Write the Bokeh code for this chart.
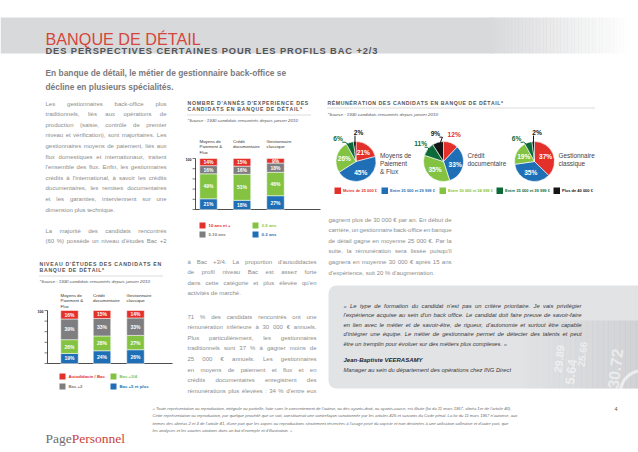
import numpy as np
from bokeh.plotting import figure
from bokeh.models import Range1d
from bokeh.embed import file_html
from bokeh.resources import INLINE
from bokeh.core.properties import value

# ---------------- data ----------------
bar_categories = [["Moyens de", "Paiement &", "Flux"], ["Crédit", "documentaire"], ["Gestionnaire", "classique"]]

exp_series = ["0-3 ans", "3-5 ans", "5-10 ans", "10 ans et +"]
exp_0_3 = [21, 18, 27]
exp_3_5 = [49, 51, 46]
exp_5_10 = [16, 16, 18]
exp_10_plus = [14, 15, 9]

edu_series = ["Bac +5 et plus", "Bac +3/4", "Bac +2", "Autodidacte / Bac"]
edu_bac5 = [19, 24, 26]
edu_bac34 = [26, 28, 27]
edu_bac2 = [39, 33, 33]
edu_auto = [16, 15, 14]

pay_series = ["Moins de 25 000 €", "Entre 25 000 et 29 999 €", "Entre 30 000 et 34 999 €",
              "Entre 35 000 et 39 999 €", "Plus de 40 000 €"]
pay_categories = [["Moyens de", "Paiement", "& Flux"], ["Crédit", "documentaire"], ["Gestionnaire", "classique"]]
pay_moyens = [21, 45, 26, 6, 2]
pay_credit = [12, 33, 35, 11, 9]
pay_gestion = [37, 35, 19, 6, 2]

# ---------------- styles ----------------
RED = "#e3302b"
BLUE = "#1f6fb6"
GREEN = "#84c342"
GRAY = "#7e7e80"
DKGREEN = "#0c6a39"
BLACK = "#151515"
TXT = "#8c8c8c"
FONT = "Liberation Sans"
PW, PH = 638, 452

p = figure(width=PW, height=PH, x_range=Range1d(0, PW), y_range=Range1d(0, PH),
           output_backend="svg", toolbar_location=None, min_border=0,
           x_axis_location=None, y_axis_location=None)
p.grid.visible = False
p.outline_line_color = None
p.background_fill_color = "white"
p.border_fill_color = "white"


def Y(py):
    return PH - py


def txt(x, py, s, size, color, style="normal", font=FONT, align="left", baseline="alphabetic", angle=0, alpha=1.0):
    xs = x if isinstance(x, (list, np.ndarray)) else [x]
    ys = [Y(v) for v in py] if isinstance(py, (list, np.ndarray)) else [Y(py)]
    ss = s if isinstance(s, list) else [s]
    p.text(x=xs, y=ys, text=ss, text_font=value(font), text_font_size=f"{size}px",
           text_color=color, text_font_style=style, text_align=align, text_baseline=baseline,
           angle=angle, text_alpha=alpha)


# Arial / Liberation Sans advance widths (1/1000 em)
AW = {' ': 278, '!': 278, '"': 355, '%': 889, '&': 667, "'": 191, '(': 333, ')': 333, '*': 389, '+': 584,
      ',': 278, '-': 333, '.': 278, '/': 278, ':': 278, ';': 278, '?': 556, '«': 556, '»': 556, '€': 556,
      'A': 667, 'B': 667, 'C': 722, 'D': 722, 'E': 667, 'F': 611, 'G': 778, 'H': 722, 'I': 278, 'J': 500,
      'K': 667, 'L': 556, 'M': 833, 'N': 722, 'O': 778, 'P': 667, 'Q': 778, 'R': 722, 'S': 667, 'T': 611,
      'U': 722, 'V': 667, 'W': 944, 'X': 667, 'Y': 667, 'Z': 611,
      'a': 556, 'b': 556, 'c': 500, 'd': 556, 'e': 556, 'f': 278, 'g': 556, 'h': 556, 'i': 222, 'j': 222,
      'k': 500, 'l': 222, 'm': 833, 'n': 556, 'o': 556, 'p': 556, 'q': 556, 'r': 333, 's': 500, 't': 278,
      'u': 556, 'v': 500, 'w': 722, 'x': 500, 'y': 500, 'z': 500,
      'é': 556, 'è': 556, 'ê': 556, 'à': 556, 'â': 556, 'ô': 556, 'ç': 500, 'î': 278, 'ù': 556, 'û': 556, 'É': 667}
# Arial Bold capitals
AWB = {' ': 278, "'": 238, '*': 389, '+': 584, '/': 278, '2': 556, '3': 556,
       'A': 722, 'B': 722, 'C': 722, 'D': 722, 'E': 667, 'É': 667, 'F': 611, 'G': 778, 'H': 722, 'I': 278,
       'J': 556, 'K': 722, 'L': 611, 'M': 833, 'N': 722, 'O': 778, 'P': 667, 'Q': 778, 'R': 722, 'S': 667,
       'T': 611, 'U': 722, 'V': 667, 'W': 944, 'X': 667, 'Y': 667, 'Z': 611}


def wwidth(s, size):
    return sum(AW.get(c, 556) for c in s) * size / 1000.0


def spaced(x0, py, s, size, color, ls):
    """bold capitals with letter spacing, one glyph per character"""
    xs, ts = [], []
    x = x0
    for c in s:
        if c != " ":
            xs.append(x); ts.append(c)
        x += AWB.get(c, 667) * size / 1000.0 + ls
    txt(xs, [py] * len(xs), ts, size, color, style="bold")


def paragraph(lines, x0, x1, py0, dy, size, color, justify_last=False, style="normal"):
    xs, ys, ts = [], [], []
    for i, line in enumerate(lines):
        py = py0 + i * dy
        words = line.split(" ")
        last = (i == len(lines) - 1)
        if len(words) > 1 and (not last or justify_last):
            tot = sum(wwidth(w, size) for w in words)
            gap = (x1 - x0 - tot) / (len(words) - 1)
            gap = max(gap, 0.12 * size)
            x = x0
            for w in words:
                xs.append(x); ys.append(py); ts.append(w)
                x += wwidth(w, size) + gap
        else:
            xs.append(x0); ys.append(py); ts.append(line)
    txt(xs, ys, ts, size, color, style=style)


# ---------------- header band ----------------
p.quad(left=0, right=492, top=Y(17), bottom=Y(53), fill_color="#d8d9db", line_color=None)
n = 40
for i in range(n):
    l = 490 + i * 140 / n
    p.quad(left=l, right=l + 140 / n + 0.5, top=Y(17), bottom=Y(53), fill_color="#d8d9db",
           fill_alpha=1 - (i + 1) / n, line_color=None)
txt(45, 38, "BANQUE DE DÉTAIL", 16.2, "#d5473c")
spaced(45, 50, "DES PERSPECTIVES CERTAINES POUR LES PROFILS BAC +2/3", 9.3, "#545456", 0.9)

txt(45, 72, "En banque de détail, le métier de gestionnaire back-office se", 8.4, "#7b7b7d", style="bold")
txt(45, 86, "décline en plusieurs spécialités.", 8.4, "#7b7b7d", style="bold")

# ---------------- body text ----------------
left_lines = ["Les gestionnaires back-office plus",
              "traditionnels, liés aux opérations de",
              "production (saisie, contrôle de premier",
              "niveau et vérification), sont majoritaires. Les",
              "gestionnaires moyens de paiement, liés aux",
              "flux domestiques et internationaux, traitent",
              "l'ensemble des flux. Enfin, les gestionnaires",
              "crédits à l'international, à savoir les crédits",
              "documentaires, les remises documentaires",
              "et les garanties, interviennent sur une",
              "dimension plus technique."]
paragraph(left_lines, 45, 166, 103, 10.6, 6, TXT)
paragraph(["La majorité des candidats rencontrés", "(60 %) possède un niveau d'études Bac +2"],
          45, 166, 230, 10.6, 6, TXT, justify_last=True)

mid1 = ["à Bac +3/4. La proportion d'autodidactes",
        "de profil niveau Bac est assez forte",
        "dans cette catégorie et plus élevée qu'en",
        "activités de marché."]
paragraph(mid1, 187, 316, 261, 10.6, 6, TXT)
mid2 = ["71 % des candidats rencontrés ont une",
        "rémunération inférieure à 30 000 € annuels.",
        "Plus particulièrement, les gestionnaires",
        "traditionnels sont 37 % à gagner moins de",
        "25 000 € annuels. Les gestionnaires",
        "en moyens de paiement et flux et en",
        "crédits documentaires enregistrent des",
        "rémunérations plus élevées : 34 % d'entre eux"]
paragraph(mid2, 187, 316, 316, 10.6, 6, TXT, justify_last=True)

right1 = ["gagnent plus de 30 000 € par an. En début de",
          "carrière, un gestionnaire back-office en banque",
          "de détail gagne en moyenne 25 000 €. Par la",
          "suite, la rémunération sera lissée puisqu'il",
          "gagnera en moyenne 30 000 € après 15 ans",
          "d'expérience, soit 20 % d'augmentation."]
paragraph(right1, 328, 451, 219, 10.6, 6, TXT)


# ---------------- stacked bar charts ----------------
def bar_chart(x_axis, base_py, top_py, xcs, series, colors, title, title_py, categories, cat_py, legend):
    h = base_py - top_py
    spaced(x_axis - 8, title_py[0], title[0], 5.2, "#555557", 0.7)
    spaced(x_axis - 8, title_py[1], title[1], 5.2, "#555557", 0.7)
    p.segment(x0=x_axis - 8, x1=x_axis + 115, y0=Y(title_py[1] + 6), y1=Y(title_py[1] + 6),
              line_color="#888888", line_dash="1 1", line_width=0.6)
    txt(x_axis - 8, title_py[1] + 11.5, "*Source : 1930 candidats rencontrés depuis janvier 2010", 4.4,
        "#555557", style="italic")
    for xc, cat in zip(xcs, categories):
        for j, c in enumerate(cat):
            txt(xc - 9, cat_py + j * 5.3, c, 4.4, "#333333")
    p.segment(x0=x_axis, x1=x_axis, y0=Y(base_py), y1=Y(top_py), line_color="#222222", line_width=0.8)
    p.segment(x0=x_axis, x1=x_axis + 125, y0=Y(base_py), y1=Y(base_py), line_color="#222222", line_width=0.8)
    ticks = np.arange(0, 101, 20)
    ty = [Y(base_py) + t * h / 100 for t in ticks]
    p.segment(x0=[x_axis - 3] * len(ty), x1=[x_axis] * len(ty), y0=ty, y1=ty, line_color="#222222", line_width=0.6)
    txt(x_axis - 4, top_py + 1.2, "100", 3.6, "#222222", style="bold", align="right")
    bottom = np.zeros(len(xcs))
    for vals, col in zip(series, colors):
        v = np.array(vals, dtype=float)
        p.vbar(x=xcs, bottom=Y(base_py) + bottom * h / 100, top=Y(base_py) + (bottom + v) * h / 100,
               width=17.5, fill_color=col, line_color="white", line_width=0.5)
        mid = bottom + v / 2
        p.text(x=xcs, y=list(Y(base_py) + mid * h / 100), text=[f"{int(a)}%" for a in v],
               text_font=value(FONT), text_font_size="5px", text_font_style="bold", text_color="white",
               text_align="center", text_baseline="middle")
        bottom += v
    for (name, col, lx, lpy) in legend:
        p.quad(left=lx, right=lx + 6, top=Y(lpy - 3), bottom=Y(lpy + 3), fill_color=col, line_color=None)
        txt(lx + 9, lpy, name, 4.3, col, style="bold", baseline="middle")


bar_chart(195, 209, 158, [208, 241.5, 275],
          [exp_0_3, exp_3_5, exp_5_10, exp_10_plus], [BLUE, GREEN, GRAY, RED],
          ["NOMBRE D'ANNÉS D'EXPERIENCE DES", "CANDIDATS EN BANQUE DE DÉTAIL*"], [102, 108.5],
          bar_categories, 141,
          [(exp_series[3], RED, 199, 225), (exp_series[1], GREEN, 252, 225),
           (exp_series[2], GRAY, 199, 234), (exp_series[0], BLUE, 252, 234)])

bar_chart(47, 363, 310, [69, 101.5, 135],
          [edu_bac5, edu_bac34, edu_bac2, edu_auto], [BLUE, GREEN, GRAY, RED],
          ["NIVEAU D'ÉTUDES DES CANDIDATS EN", "BANQUE DE DÉTAIL*"], [263, 269.5],
          bar_categories, 295,
          [(edu_series[3], RED, 59, 376), (edu_series[1], GREEN, 110, 376),
           (edu_series[2], GRAY, 59, 386), (edu_series[0], BLUE, 110, 386)])

# ---------------- pies ----------------
spaced(327, 102, "RÉMUNÉRATION DES CANDIDATS EN BANQUE DE DÉTAIL*", 5.2, "#555557", 0.55)
p.segment(x0=327, x1=595, y0=Y(107.5), y1=Y(107.5), line_color="#888888", line_dash="1 1", line_width=0.6)
txt(327, 114, "*Source : 1930 candidats rencontrés depuis janvier 2010", 4.4, "#555557", style="italic")

pie_colors = [RED, BLUE, GREEN, DKGREEN, BLACK]


def pie(cx, cpy, r, vals, cat):
    v = np.array(vals, dtype=float)
    frac = v / v.sum()
    cum = np.concatenate([[0], np.cumsum(frac)])
    start = np.pi / 2 - cum[1:] * 2 * np.pi
    end = np.pi / 2 - cum[:-1] * 2 * np.pi
    p.wedge(x=cx, y=Y(cpy), radius=r, start_angle=start, end_angle=end,
            fill_color=pie_colors, line_color="white", line_width=0.6)
    mids = (start + end) / 2
    for k, (val, a) in enumerate(zip(vals, mids)):
        if val >= 15:
            txt(cx + 0.6 * r * np.cos(a), cpy - 0.6 * r * np.sin(a), f"{val}%", 6.6, "white",
                style="bold", align="center", baseline="middle")
        else:
            la = a
            if val < 5:
                la = np.pi / 2 - 0.09
            elif k == 3 and vals[4] < 5:
                la = a + 0.35
            lx = cx + (r + 9) * np.cos(la)
            ly = cpy - (r + 9) * np.sin(la)
            col = pie_colors[k]
            txt(lx, ly, f"{val}%", 6.6, col, style="bold", align="center", baseline="middle")
            if k >= 3:
                ex = cx + 0.8 * r * np.cos(a)
                ey = cpy - 0.8 * r * np.sin(a)
                if val < 5:
                    p.segment(x0=ex, x1=ex, y0=Y(ly + 3), y1=Y(ey), line_color=BLACK, line_width=1)
                else:
                    kx = lx + 7
                    p.line(x=[lx + 4, kx, ex], y=[Y(ly + 3.5), Y(ly + 3.5), Y(ey)], line_color=col, line_width=1)
    for j, c in enumerate(cat):
        txt(cx + r + 4, cpy - 6 + j * 8, c, 6.4, "#444446", baseline="middle")


pie(355.5, 161, 20, pay_moyens, pay_categories[0])
pie(443, 161, 20, pay_credit, pay_categories[1])
pie(534, 161, 20, pay_gestion, pay_categories[2])

for name, col, lx in zip(pay_series, pie_colors, [334, 381, 439, 496, 553]):
    p.quad(left=lx, right=lx + 6.5, top=Y(187), bottom=Y(193.5), fill_color=col, line_color=None)
    txt(lx + 8.5, 190.3, name, 4.0, col, style="bold", baseline="middle")

# ---------------- quote box ----------------
p.quad(left=328, right=660, top=Y(285), bottom=Y(388), fill_color="#e2e3e5", line_color=None, border_radius=8)
for i in range(22):
    l = 520 + i * 5.5
    p.quad(left=l, right=l + 6, top=Y(320), bottom=Y(388), fill_color="#b9babd",
           fill_alpha=0.02 + 0.018 * i, line_color=None)
for s, x, py, sz, ang in [("29.89", 557, 372, 11, 1.45), ("5.64", 569, 384, 13, 1.45),
                          ("25.66", 580, 366, 10, 1.45), ("30.72", 612, 388, 16, 1.45)]:
    txt(x, py, s, sz, "white", style="bold", angle=ang, alpha=0.55)
p.arc(x=642, y=Y(392), radius=22, start_angle=1.6, end_angle=3.1, line_color="white", line_alpha=0.6, line_width=3)

quote = ["« Le type de formation du candidat n'est pas un critère prioritaire. Je vais privilégier",
         "l'expérience acquise au sein d'un back office. Le candidat doit faire preuve de savoir-faire",
         "en lien avec le métier et de savoir-être, de rigueur, d'autonomie et surtout être capable",
         "d'intégrer une équipe. Le métier de gestionnaire permet de détecter des talents et peut",
         "être un tremplin pour évoluer sur des métiers plus complexes. »"]
paragraph(quote, 343, 581, 305, 9.6, 5.8, "#38383a", style="italic")
txt(343, 359, "Jean-Baptiste VEERASAMY", 6.0, "#2a2a2c", style="bold italic")
txt(343, 369, "Manager au sein du département des opérations chez ING Direct", 5.8, "#38383a", style="italic")

# ---------------- footer ----------------
txt(45, 438, "Page", 13.5, "#6e6e70", font="Liberation Serif")
txt(71.2, 438, "Personnel", 13.5, "#c9433a", font="Liberation Serif")
foot = ["« Toute représentation ou reproduction, intégrale ou partielle, faite sans le consentement de l'auteur, ou des ayants-droit, ou ayants-cause, est illicite (loi du 11 mars 1957, alinéa 1er de l'article 40).",
        "Cette représentation ou reproduction, par quelque procédé que ce soit, constituerait une contrefaçon sanctionnée par les articles 425 et suivants du Code pénal. La loi du 11 mars 1957 n'autorise, aux",
        "termes des alinéas 2 et 3 de l'article 41, d'une part que les copies ou reproductions strictement réservées à l'usage privé du copiste et non destinées à une utilisation collective et d'autre part, que",
        "les analyses et les courtes citations dans un but d'exemple et d'illustration. »"]
txt([152] * 4, [408, 415.3, 422.6, 429.9], foot, 4.15, "#6a6a6c", style="italic")
txt(614, 408, "4", 5.5, "#555557")

open("out.html", "w").write(file_html(p, INLINE))
